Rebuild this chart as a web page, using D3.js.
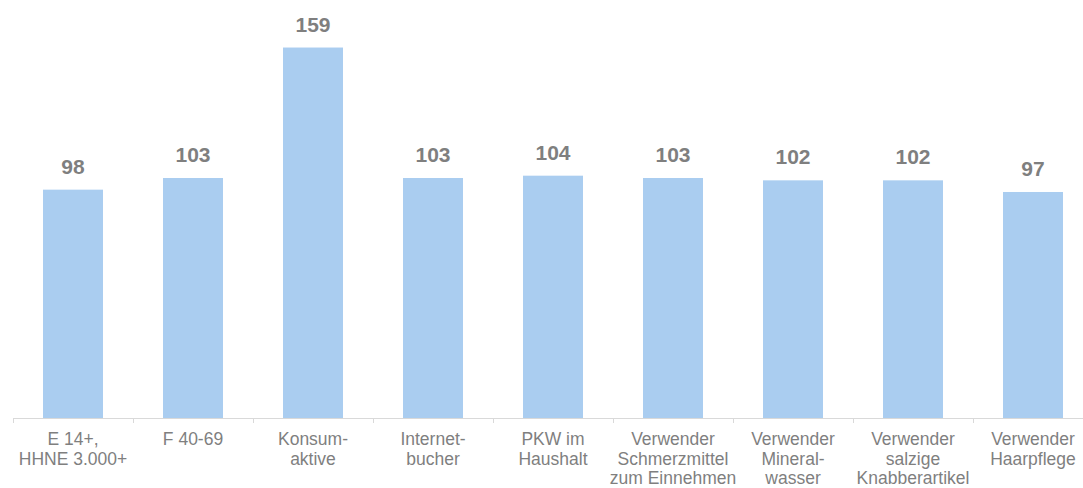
<!DOCTYPE html>
<html lang="de">
<head>
	<meta charset="utf-8">
	<title>Index</title>
	<script src="https://cdn.jsdelivr.net/npm/d3@7/dist/d3.min.js"></script>
	<style>
		body { margin: 0; background: #fff; }
		svg { display: block; }
	</style>
</head>
<body>
	<script>
		// Data
		var categories = [
			["E 14+,", "HHNE 3.000+"],
			["F 40-69"],
			["Konsum-", "aktive"],
			["Internet-", "bucher"],
			["PKW im", "Haushalt"],
			["Verwender", "Schmerzmittel", "zum Einnehmen"],
			["Verwender", "Mineral-", "wasser"],
			["Verwender", "salzige", "Knabberartikel"],
			["Verwender", "Haarpflege"]
		];
		var values = [98, 103, 159, 103, 104, 103, 102, 102, 97];

		// Sizes
		var width = 1083, height = 488;
		var baseY = 418;

		var svg = d3.select("body")
			.append("svg")
			.attr("width", width)
			.attr("height", height);

		var idx = d3.range(values.length);

		// band scale for categories
		var xScale = d3.scaleBand()
			.domain(idx)
			.range([13, 1093])
			.paddingInner(0.5)
			.paddingOuter(0.25);

		// linear scale for values
		var yScale = d3.scaleLinear()
			.domain([0, 180])
			.range([baseY, baseY - 180 * 2.33]);

		// bars
		svg.selectAll("rect.bar")
			.data(idx)
			.enter()
			.append("rect")
			.attr("class", "bar")
			.attr("x", function(i) { return xScale(i); })
			.attr("y", function(i) { return yScale(values[i]); })
			.attr("width", xScale.bandwidth())
			.attr("height", function(i) { return baseY - yScale(values[i]); })
			.attr("fill", "#aacdf0");

		// value labels
		svg.selectAll("text.val")
			.data(idx)
			.enter()
			.append("text")
			.attr("class", "val")
			.attr("x", function(i) { return xScale(i) + xScale.bandwidth() / 2; })
			.attr("y", function(i) { return yScale(values[i]) - 16; })
			.attr("text-anchor", "middle")
			.style("font-family", "'Liberation Sans', Arial, sans-serif")
			.attr("font-size", 21)
			.attr("font-weight", "bold")
			.attr("fill", "#7f7f7f")
			.text(function(i) { return values[i]; });

		// x axis: domain line only
		var xAxis = d3.axisBottom(xScale)
			.tickSize(0)
			.tickSizeOuter(0)
			.tickFormat("");

		var gx = svg.append("g")
			.attr("transform", "translate(0," + baseY + ")")
			.call(xAxis);
		gx.select(".domain").attr("stroke", "#d9d9d9");

		// tick marks between categories
		var step = xScale.step();
		var bounds = d3.range(values.length + 1).map(function(k) { return 13 + k * step; });
		gx.selectAll("line.sep")
			.data(bounds)
			.enter()
			.append("line")
			.attr("class", "sep")
			.attr("x1", function(d) { return d + 0.5; })
			.attr("x2", function(d) { return d + 0.5; })
			.attr("y1", 0)
			.attr("y2", 5)
			.attr("stroke", "#d9d9d9");

		// category labels
		var labels = svg.selectAll("text.cat")
			.data(idx)
			.enter()
			.append("text")
			.attr("class", "cat")
			.attr("text-anchor", "middle")
			.style("font-family", "'Liberation Sans', Arial, sans-serif")
			.attr("font-size", 17.5)
			.attr("fill", "#7f7f7f");

		labels.each(function(i) {
			var cx = xScale(i) + xScale.bandwidth() / 2;
			d3.select(this).selectAll("tspan")
				.data(categories[i])
				.enter()
				.append("tspan")
				.attr("x", cx)
				.attr("y", function(d, k) { return 445 + k * 19.5; })
				.text(function(d) { return d; });
		});
	</script>
</body>
</html>
